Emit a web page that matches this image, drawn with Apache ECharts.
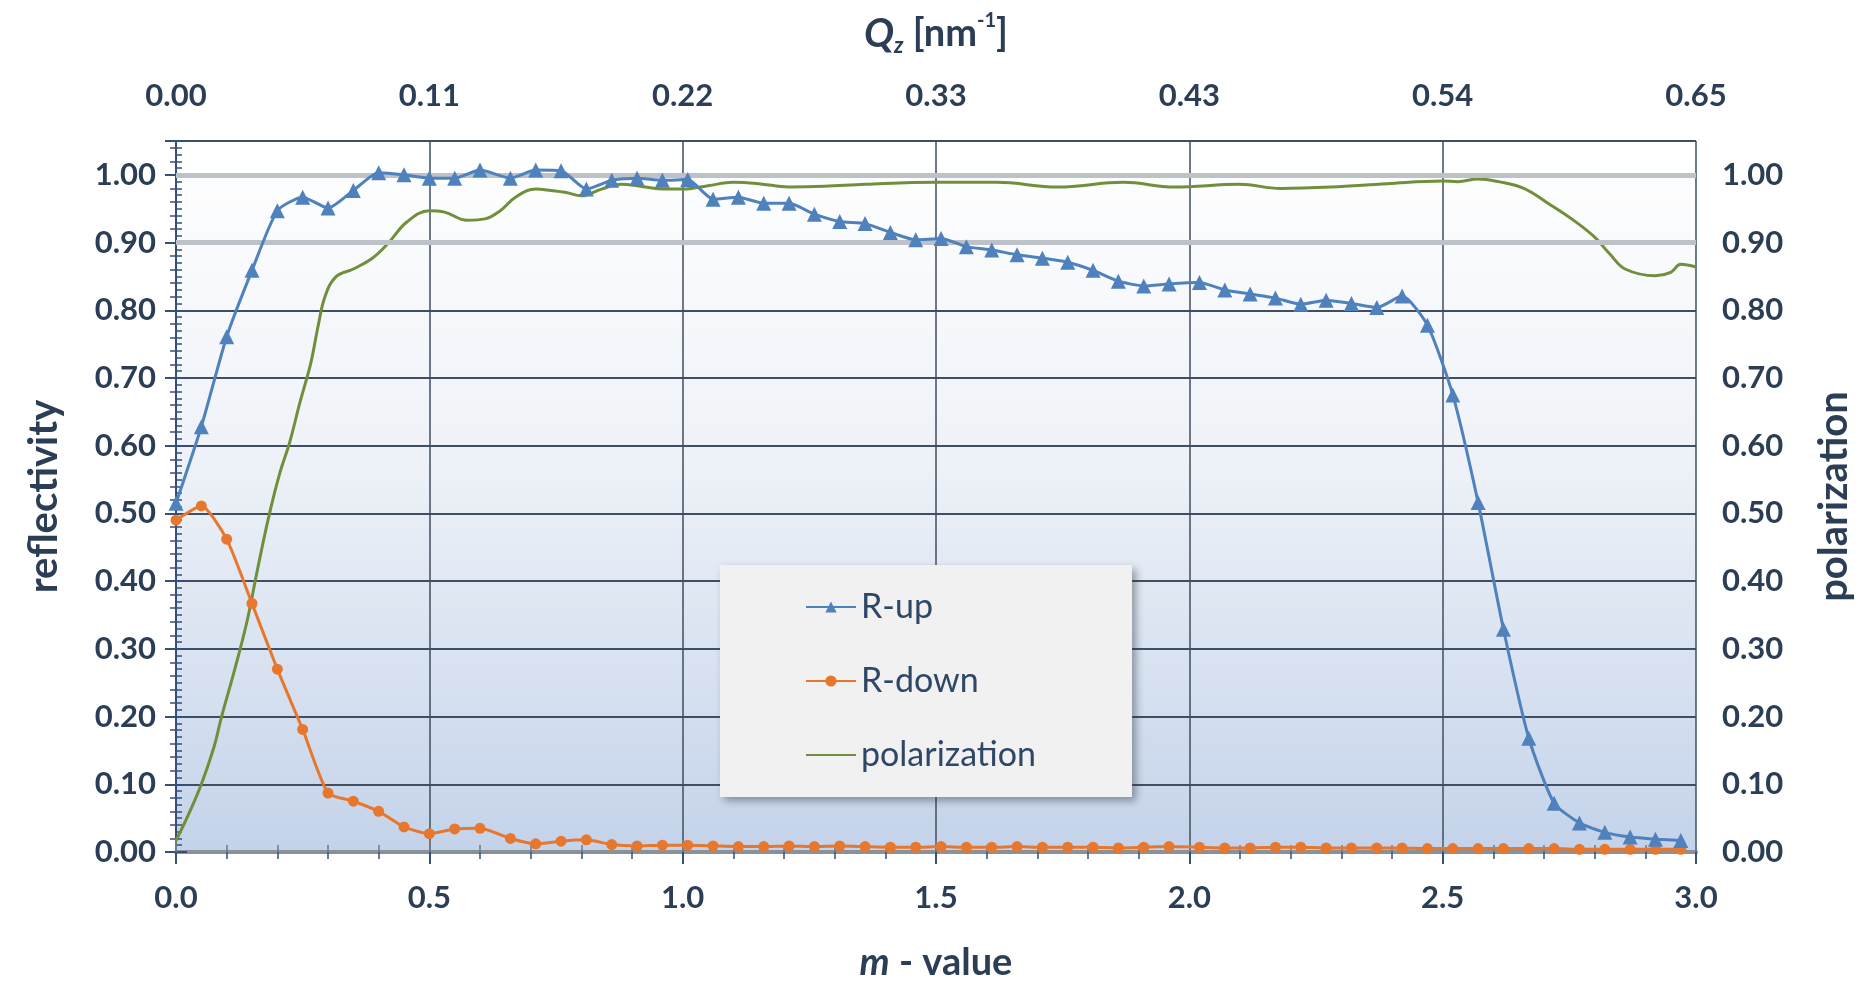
<!DOCTYPE html>
<html>
<head>
<meta charset="utf-8">
<title>Reflectivity and polarization vs m-value</title>
<script src="https://cdn.jsdelivr.net/npm/echarts@6/dist/echarts.min.js"></script>
<style>
  html, body { margin: 0; padding: 0; background: #ffffff; }
  #chart { width: 1868px; height: 987px; }
</style>
</head>
<body>
<div id="chart"></div>
<script>
// m-value positions of the measured reflectivity points
const mValues = [
  0.00, 0.05, 0.10, 0.15, 0.20, 0.25, 0.30, 0.35, 0.40, 0.45,
  0.50, 0.55, 0.60, 0.66, 0.71, 0.76, 0.81, 0.86, 0.91, 0.96,
  1.01, 1.06, 1.11, 1.16, 1.21, 1.26, 1.31, 1.36, 1.41, 1.46,
  1.51, 1.56, 1.61, 1.66, 1.71, 1.76, 1.81, 1.86, 1.91, 1.96,
  2.02, 2.07, 2.12, 2.17, 2.22, 2.27, 2.32, 2.37, 2.42, 2.47,
  2.52, 2.57, 2.62, 2.67, 2.72, 2.77, 2.82, 2.87, 2.92, 2.97
];

// spin-up reflectivity
const rUp = [
  0.515, 0.628, 0.761, 0.859, 0.947, 0.967, 0.951, 0.977, 1.003, 1.000,
  0.995, 0.995, 1.007, 0.995, 1.007, 1.006, 0.979, 0.992, 0.995, 0.992,
  0.993, 0.964, 0.967, 0.958, 0.958, 0.942, 0.931, 0.928, 0.915, 0.904,
  0.906, 0.894, 0.889, 0.882, 0.877, 0.871, 0.859, 0.843, 0.836, 0.839,
  0.841, 0.830, 0.824, 0.818, 0.809, 0.815, 0.810, 0.804, 0.821, 0.778,
  0.675, 0.516, 0.329, 0.168, 0.072, 0.043, 0.029, 0.022, 0.019, 0.017
];

// spin-down reflectivity
const rDown = [
  0.490, 0.511, 0.462, 0.367, 0.270, 0.181, 0.087, 0.075, 0.060, 0.037,
  0.027, 0.034, 0.035, 0.020, 0.012, 0.016, 0.018, 0.011, 0.009, 0.010,
  0.010, 0.009, 0.008, 0.008, 0.009, 0.008, 0.009, 0.008, 0.007, 0.007,
  0.008, 0.007, 0.007, 0.008, 0.007, 0.007, 0.007, 0.006, 0.007, 0.008,
  0.007, 0.006, 0.006, 0.007, 0.007, 0.006, 0.006, 0.006, 0.006, 0.005,
  0.005, 0.005, 0.005, 0.005, 0.005, 0.004, 0.004, 0.004, 0.004, 0.004
];

// polarization curve (dense sampling)
const polM = [
  0.000, 0.025, 0.050, 0.075, 0.090, 0.115, 0.140, 0.160, 0.183, 0.205,
  0.224, 0.245, 0.266, 0.280, 0.294, 0.315, 0.350, 0.386, 0.420, 0.455,
  0.500, 0.530, 0.575, 0.610, 0.640, 0.670, 0.710, 0.740, 0.770, 0.800,
  0.840, 0.880, 0.910, 0.960, 1.000, 1.050, 1.100, 1.150, 1.210, 1.280,
  1.360, 1.500, 1.620, 1.740, 1.870, 1.970, 2.100, 2.180, 2.280, 2.390,
  2.500, 2.530, 2.570, 2.610, 2.660, 2.710, 2.760, 2.800, 2.830, 2.860,
  2.920, 2.950, 2.970, 3.000
];
const polarization = [
  0.017, 0.056, 0.100, 0.155, 0.200, 0.267, 0.340, 0.414, 0.495, 0.560,
  0.604, 0.665, 0.722, 0.775, 0.820, 0.849, 0.861, 0.876, 0.900, 0.930,
  0.947, 0.945, 0.933, 0.935, 0.947, 0.967, 0.979, 0.977, 0.974, 0.969,
  0.979, 0.986, 0.984, 0.979, 0.979, 0.984, 0.989, 0.987, 0.982, 0.983,
  0.986, 0.989, 0.989, 0.982, 0.989, 0.982, 0.986, 0.980, 0.982, 0.987,
  0.991, 0.990, 0.994, 0.990, 0.980, 0.957, 0.932, 0.908, 0.883, 0.861,
  0.851, 0.856, 0.868, 0.864
];

// tick labels of the Qz scale on the top axis (one per 0.5 in m)
const qzLabels = ['0.00', '0.11', '0.22', '0.33', '0.43', '0.54', '0.65'];

// highlighted reference levels on the reflectivity scale
const refLevels = [0.90, 1.00];

const textColor = '#2b3e56';
const axisBlue = '#34507a';
const gridDark = '#3f4e61';
const font = 'Lato, "Open Sans", sans-serif';

const pair = (xs, ys) => xs.map((x, i) => [x, ys[i]]);

const chart = echarts.init(document.getElementById('chart'), null, { renderer: 'canvas' });

const labelStyle = { fontFamily: font, fontWeight: 'bold', fontSize: 31, color: textColor };

chart.setOption({
  animation: false,
  backgroundColor: '#ffffff',
  grid: {
    left: 176, right: 172, top: 141, bottom: 134,
    show: true,
    borderWidth: 0,
    backgroundColor: new echarts.graphic.LinearGradient(0, 0, 0, 1, [
      { offset: 0, color: '#ffffff' },
      { offset: 0.45, color: '#eef2f8' },
      { offset: 1, color: '#c4d3ea' }
    ])
  },
  legend: {
    data: [
      'R-up',
      'R-down',
      // plain line key, no marker
      { name: 'polarization', itemStyle: { color: 'rgba(0,0,0,0)', borderWidth: 0 } }
    ],
    orient: 'vertical',
    left: 720, top: 565,
    padding: [22, 96, 22, 85],
    itemWidth: 50, itemHeight: 14, itemGap: 34,
    backgroundColor: '#f1f1f1',
    shadowColor: 'rgba(40,50,60,0.45)',
    shadowBlur: 8, shadowOffsetX: 4, shadowOffsetY: 4,
    textStyle: { fontFamily: font, fontSize: 34, color: '#2f4766', lineHeight: 40 }
  },
  xAxis: [
    {
      type: 'value', position: 'bottom', min: 0, max: 3, interval: 0.5,
      axisLine: { show: true, lineStyle: { color: axisBlue, width: 2 } },
      axisTick: { show: true, length: 12, lineStyle: { color: axisBlue, width: 2 } },
      minorTick: { show: true, splitNumber: 5, length: 7, lineStyle: { color: axisBlue, width: 1.5 } },
      axisLabel: Object.assign({ margin: 30, formatter: v => v.toFixed(1) }, labelStyle),
      splitLine: { show: true, lineStyle: { color: gridDark, width: 1.5 } },
      name: '{m|m}{t| - value}',
      nameLocation: 'middle', nameGap: 92,
      nameTextStyle: {
        rich: {
          m: { fontFamily: font, fontStyle: 'italic', fontWeight: 'bold', fontSize: 38, color: textColor },
          t: { fontFamily: font, fontWeight: 'bold', fontSize: 38, color: textColor }
        }
      }
    },
    {
      type: 'value', position: 'top', min: 0, max: 3, interval: 0.5,
      axisLine: { show: true, lineStyle: { color: '#8b9199', width: 4 } },
      axisTick: { show: true, length: 12, lineStyle: { color: '#6f7a86', width: 2 } },
      minorTick: { show: true, splitNumber: 5, length: 7, lineStyle: { color: '#6f7a86', width: 1.5 } },
      axisLabel: Object.assign({ margin: 30, formatter: v => qzLabels[Math.round(v / 0.5)] }, labelStyle),
      splitLine: { show: false },
      name: '{q|Q}{z|z}{t| [nm}{s|-1}{t|]}',
      nameLocation: 'middle', nameGap: 84,
      nameTextStyle: {
        rich: {
          q: { fontFamily: font, fontStyle: 'italic', fontWeight: 'bold', fontSize: 40, color: textColor, lineHeight: 46 },
          z: { fontFamily: font, fontStyle: 'italic', fontWeight: 'bold', fontSize: 22, color: textColor, verticalAlign: 'bottom', lineHeight: 24 },
          t: { fontFamily: font, fontWeight: 'bold', fontSize: 38, color: textColor, lineHeight: 46 },
          s: { fontFamily: font, fontWeight: 'bold', fontSize: 20, color: textColor, verticalAlign: 'top', lineHeight: 26 }
        }
      }
    }
  ],
  yAxis: [
    {
      type: 'value', position: 'left', min: 0, max: 1.05, interval: 0.1,
      axisLine: { show: true, lineStyle: { color: axisBlue, width: 2 } },
      axisTick: { show: true, length: 11, lineStyle: { color: axisBlue, width: 2 } },
      minorTick: { show: true, splitNumber: 5, length: 6, lineStyle: { color: axisBlue, width: 1.5 } },
      axisLabel: Object.assign({ margin: 20, formatter: v => v.toFixed(2), showMaxLabel: false }, labelStyle),
      splitLine: { show: true, lineStyle: { color: gridDark, width: 2 } },
      name: 'reflectivity',
      nameLocation: 'middle', nameGap: 112, nameRotate: 90,
      nameTextStyle: { fontFamily: font, fontWeight: 'bold', fontSize: 40, color: textColor }
    },
    {
      type: 'value', position: 'right', min: 0, max: 1.05, interval: 0.1,
      axisLine: { show: true, lineStyle: { color: axisBlue, width: 2 } },
      axisTick: { show: true, length: 11, lineStyle: { color: axisBlue, width: 2 } },
      minorTick: { show: true, splitNumber: 10, length: 6, lineStyle: { color: axisBlue, width: 1.5 } },
      axisLabel: Object.assign({ margin: 26, formatter: v => v.toFixed(2), showMaxLabel: false }, labelStyle),
      splitLine: { show: false },
      name: 'polarization',
      nameLocation: 'middle', nameGap: 118, nameRotate: 90,
      nameTextStyle: { fontFamily: font, fontWeight: 'bold', fontSize: 40, color: textColor }
    }
  ],
  series: [
    {
      // light reference bands at 0.90 and 1.00
      type: 'line', data: [], silent: true, z: 1,
      markLine: {
        silent: true, symbol: 'none', label: { show: false },
        lineStyle: { color: '#bcc2c8', width: 5, type: 'solid' },
        data: refLevels.map(v => ({ yAxis: v }))
      }
    },
    {
      name: 'polarization', type: 'line', yAxisIndex: 1, xAxisIndex: 0,
      data: pair(polM, polarization),
      smooth: 0.4, showSymbol: false, symbol: 'none',
      lineStyle: { color: '#718f3a', width: 3 },
      itemStyle: { color: '#718f3a' },
      z: 3
    },
    {
      name: 'R-down', type: 'line', yAxisIndex: 0, xAxisIndex: 0,
      data: pair(mValues, rDown),
      smooth: 0.2, symbol: 'circle', symbolSize: 11,
      lineStyle: { color: '#e8772e', width: 3 },
      itemStyle: { color: '#e8772e' },
      z: 4
    },
    {
      name: 'R-up', type: 'line', yAxisIndex: 0, xAxisIndex: 0,
      data: pair(mValues, rUp),
      smooth: 0.2, symbol: 'triangle', symbolSize: 15,
      lineStyle: { color: '#4f81bd', width: 3 },
      itemStyle: { color: '#4f81bd' },
      z: 5
    }
  ]
});
</script>
</body>
</html>
